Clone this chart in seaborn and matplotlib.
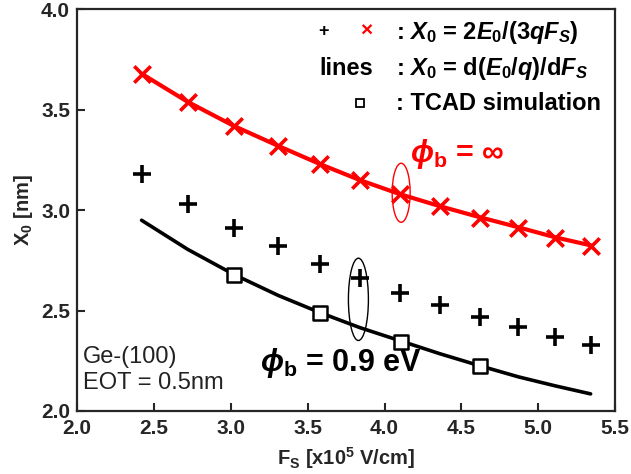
import matplotlib
matplotlib.use("Agg")
import matplotlib.pyplot as plt
from matplotlib.patches import Ellipse
import pandas as pd
import seaborn as sns

# values
fs = [2.42, 2.72, 3.02, 3.31, 3.58, 3.84, 4.10, 4.36, 4.62, 4.87, 5.11, 5.34]
x0_inf_cross = [3.68, 3.54, 3.42, 3.32, 3.23, 3.15, 3.08, 3.02, 2.96, 2.91, 2.86, 2.82]
x0_inf_line = [3.68, 3.54, 3.42, 3.32, 3.23, 3.15, 3.08, 3.02, 2.965, 2.915, 2.865, 2.825]
x0_09_plus = [3.18, 3.03, 2.91, 2.82, 2.73, 2.66, 2.59, 2.53, 2.47, 2.42, 2.37, 2.33]
x0_09_line = [2.95, 2.805, 2.68, 2.575, 2.49, 2.415, 2.35, 2.285, 2.225, 2.17, 2.125, 2.085]
tcad_fs = [3.02, 3.58, 4.11, 4.62]
tcad_x0 = [2.675, 2.49, 2.345, 2.225]

sns.set_theme(style="ticks")
plt.rcParams["font.family"] = ["Liberation Sans", "DejaVu Sans"]
plt.rcParams["mathtext.fontset"] = "custom"
plt.rcParams["mathtext.rm"] = "Liberation Sans:bold"
plt.rcParams["mathtext.it"] = "Liberation Sans:bold:italic"
plt.rcParams["mathtext.bf"] = "Liberation Sans:bold"

df = pd.DataFrame({
    "fs": fs,
    "inf_cross": x0_inf_cross,
    "inf_line": x0_inf_line,
    "plus": x0_09_plus,
    "line09": x0_09_line,
})
tcad = pd.DataFrame({"fs": tcad_fs, "x0": tcad_x0})

fig = plt.figure(figsize=(6.31, 4.74), dpi=100)
ax = fig.add_axes([0.122, 0.133, 0.853, 0.847])

sns.lineplot(data=df, x="fs", y="inf_line", color="#ff0000", linewidth=3.0, sort=False, estimator=None, ax=ax)
sns.lineplot(data=df, x="fs", y="line09", color="black", linewidth=2.6, sort=False, estimator=None, ax=ax)
sns.scatterplot(data=df, x="fs", y="inf_cross", marker="x", s=140, color="#ff0000", linewidth=2.6, ax=ax, zorder=4)
sns.scatterplot(data=df, x="fs", y="plus", marker="+", s=160, color="black", linewidth=2.6, ax=ax, zorder=4)
sns.scatterplot(data=tcad, x="fs", y="x0", marker="s", s=110, facecolor="white", edgecolor="black", linewidth=1.8, ax=ax, zorder=5)

ax.add_patch(Ellipse((4.108, 3.087), 0.117, 0.294, fill=False, edgecolor="#ff0000", linewidth=1.0, zorder=6))
ax.add_patch(Ellipse((3.83, 2.556), 0.13, 0.41, fill=False, edgecolor="black", linewidth=1.0, zorder=6))

ax.set_xlim(2.0, 5.5)
ax.set_ylim(2.0, 4.0)
ax.set_xticks([2.0, 2.5, 3.0, 3.5, 4.0, 4.5, 5.0, 5.5])
ax.set_yticks([2.0, 2.5, 3.0, 3.5, 4.0])
ax.tick_params(direction="in", length=6, width=1.5, labelsize=15)
ax.tick_params(axis="x", pad=6)
ax.tick_params(axis="y", pad=5)
for lab in ax.get_xticklabels() + ax.get_yticklabels():
    lab.set_fontweight("bold")
for sp in ax.spines.values():
    sp.set_linewidth(1.6)
    sp.set_visible(True)

ax.set_xlabel("F$_\\mathrm{S}$ [x10$^\\mathrm{5}$ V/cm]", fontsize=14.5, fontweight="bold", labelpad=5)
ax.set_ylabel("$\\mathrm{X_0}$ [nm]", fontsize=14.5, fontweight="bold", labelpad=4)

# legend-like text block
tk = dict(transform=ax.transAxes, fontsize=17, fontweight="bold", va="center")
ax.text(0.458, 0.945, "+", color="black", ha="center", transform=ax.transAxes, fontsize=13, fontweight="bold", va="center")
ax.text(0.538, 0.945, "\u00d7", color="#ff0000", ha="center", transform=ax.transAxes, fontsize=15, fontweight="bold", va="center")
ax.text(0.592, 0.942, ": $X_0$ = 2$E_0$/(3$qF_S$)", color="black", ha="left", **tk)
ax.text(0.45, 0.852, "lines", color="black", ha="left", **tk)
ax.text(0.592, 0.852, ": $X_0$ = d($E_0$/$q$)/d$F_S$", color="black", ha="left", **tk)
ax.plot([0.526], [0.768], marker="s", ms=5.5, mfc="white", mec="black", mew=1.3, transform=ax.transAxes)
ax.text(0.592, 0.766, ": TCAD simulation", color="black", ha="left", **tk)

ax.text(4.167, 3.24, "$\\phi_\\mathbf{b}$ = \u221e", color="#ff0000", fontsize=22, fontweight="bold", ha="left", va="baseline")
ax.text(3.19, 2.20, "$\\phi_\\mathbf{b}$ = 0.9 eV", color="black", fontsize=22, fontweight="bold", ha="left", va="baseline")

ax.text(2.04, 2.085, "Ge-(100)\nEOT = 0.5nm", color="#222222", fontsize=17, ha="left", va="bottom", linespacing=1.2)

fig.savefig("out.png", dpi=100)
